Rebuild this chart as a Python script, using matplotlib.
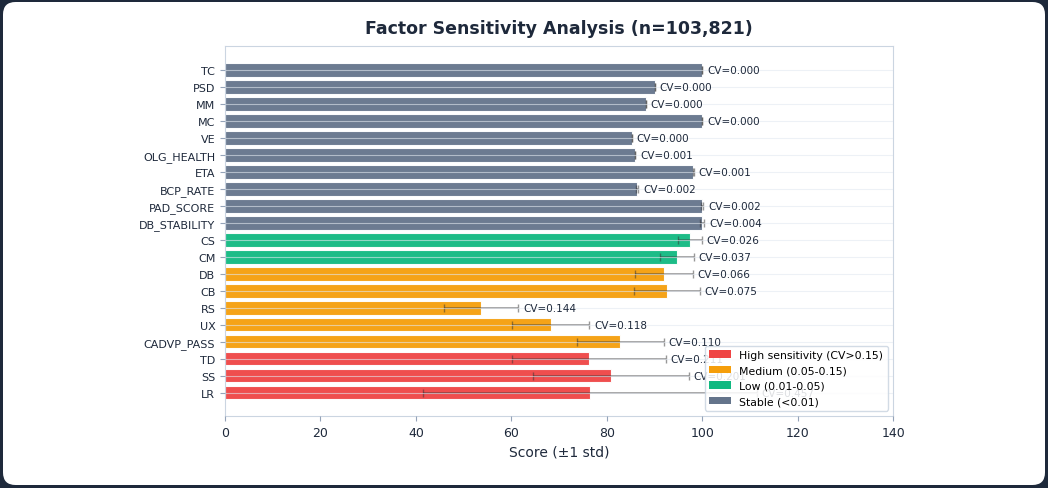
import matplotlib
matplotlib.use("Agg")
import matplotlib.pyplot as plt
from matplotlib.patches import FancyBboxPatch, Patch
import numpy as np

factors = ["TC", "PSD", "MM", "MC", "VE", "OLG_HEALTH", "ETA", "BCP_RATE", "PAD_SCORE",
           "DB_STABILITY", "CS", "CM", "DB", "CB", "RS", "UX", "CADVP_PASS", "TD", "SS", "LR"]
means = [100.0, 90.1, 88.2, 100.0, 85.3, 85.9, 98.1, 86.4, 100.0,
         100.0, 97.4, 94.7, 92.0, 92.6, 53.7, 68.3, 82.8, 76.3, 80.9, 76.5]
cvs = [0.000, 0.000, 0.000, 0.000, 0.000, 0.001, 0.001, 0.002, 0.002,
       0.004, 0.026, 0.037, 0.066, 0.075, 0.144, 0.118, 0.110, 0.211, 0.201, 0.457]

legend_labels = ["High sensitivity (CV>0.15)", "Medium (0.05-0.15)", "Low (0.01-0.05)", "Stable (<0.01)"]
palette = ["#ef4444", "#f59e0b", "#10b981", "#64748b"]

def color_for(cv):
    if cv > 0.15:
        return palette[0]
    if cv > 0.05:
        return palette[1]
    if cv > 0.01:
        return palette[2]
    return palette[3]

means_a = np.array(means)
cvs_a = np.array(cvs)
stds = means_a * cvs_a
colors = [color_for(c) for c in cvs]

fig = plt.figure(figsize=(10.48, 4.89), dpi=100)
fig.patch.set_facecolor("#1e293b")
card = FancyBboxPatch((3 / 1048, 3 / 489), 1042 / 1048, 483 / 489,
                      boxstyle="round,pad=0,rounding_size=0.012",
                      transform=fig.transFigure, facecolor="white", edgecolor="none",
                      zorder=-10, mutation_aspect=1048 / 489)
fig.patches.append(card)

ax = fig.add_axes([0.2147, 0.1472, 0.6375, 0.7568])
ax.set_facecolor("white")
y = np.arange(len(factors))
ax.barh(y, means_a, xerr=stds, color=colors, alpha=0.95, height=0.8,
        edgecolor="white", linewidth=0.8,
        error_kw=dict(ecolor="#333333", alpha=0.5, capsize=3, elinewidth=1.2, capthick=1))

for yi, m, s, c in zip(y, means_a, stds, cvs):
    ax.text(m + s + 1, yi, f"CV={c:.3f}", va="center", ha="left", fontsize=7.5, color="#1e293b")

ax.set_yticks(y)
ax.set_yticklabels(factors, fontsize=8, color="#1e293b")
ax.set_ylim(len(factors) - 1 + 1.38, -1.42)
ax.set_xlim(0, 140)
ax.set_xticks([0, 20, 40, 60, 80, 100, 120, 140])
ax.tick_params(axis="x", labelsize=9, colors="#1e293b")
ax.tick_params(axis="y", colors="#1e293b")
ax.tick_params(axis="both", color="#94a3b8")
ax.set_xlabel("Score (±1 std)", fontsize=10, color="#1e293b")
ax.set_title("Factor Sensitivity Analysis (n=103,821)", fontsize=12.5, fontweight="bold",
             color="#1e293b", pad=9.5)
ax.set_axisbelow(False)
ax.grid(axis="y", color="#e2e8f0", alpha=0.6, linewidth=0.8)
for sp in ax.spines.values():
    sp.set_color("#cbd5e1")

handles = [Patch(facecolor=c, label=l) for c, l in zip(palette, legend_labels)]
leg = ax.legend(handles=handles, loc="lower right", fontsize=7.8, frameon=True,
                edgecolor="#cbd5e1", framealpha=0.85)
leg.set_zorder(10)

fig.savefig("out.png", dpi=100, facecolor=fig.get_facecolor())
